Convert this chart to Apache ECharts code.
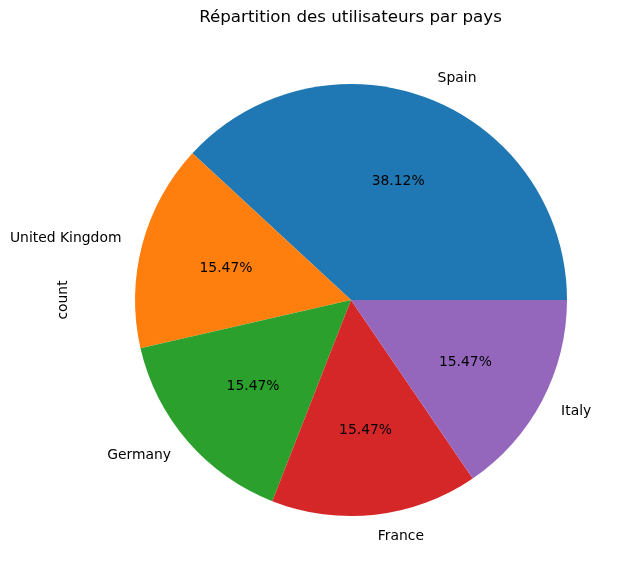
<!DOCTYPE html>
<html><head><meta charset="utf-8">
<script src="https://cdn.jsdelivr.net/npm/echarts@6/dist/echarts.min.js"></script>
<style>html,body{margin:0;padding:0;background:#fff}#c{width:630px;height:580px}</style>
</head><body><div id="c"></div>
<script>
const categories = ['Spain', 'United Kingdom', 'Germany', 'France', 'Italy'];
const counts = [69, 28, 28, 28, 28];
const colors = ['#1f77b4', '#ff7f0e', '#2ca02c', '#d62728', '#9467bd'];
const titleText = 'Répartition des utilisateurs par pays';
const yLabel = 'count';

const total = counts.reduce((a, b) => a + b, 0);
const data = categories.map((c, i) => ({ name: c, value: counts[i], itemStyle: { color: colors[i] } }));
const R = 216;
const cx = 351, cy = 300;
const font = 'DejaVu Sans';

const chart = echarts.init(document.getElementById('c'));
chart.setOption({
  animation: false,
  graphic: [
    { type: 'text', x: 350.5, y: 18, style: { text: titleText, fontFamily: font, fontSize: 16.7, fill: '#000', textAlign: 'center', textVerticalAlign: 'middle' } },
    { type: 'text', x: 63, y: cy, rotation: Math.PI / 2,
      style: { text: yLabel, fontFamily: font, fontSize: 13.9, fill: '#000', textAlign: 'center', textVerticalAlign: 'middle' } }],
  series: [
    { type: 'pie', center: [cx, cy], radius: [0, R], startAngle: 0, clockwise: false,
      avoidLabelOverlap: false, silent: true, data: data,
      label: { show: true, position: 'outside', distanceToLabelLine: 0, fontFamily: font, fontSize: 13.9, color: '#000',
        formatter: p => p.name },
      labelLine: { show: false, length: R * 0.1, length2: 0 } },
    { type: 'pie', center: [cx, cy + 1.5], radius: [0, R * 1.17], startAngle: 0, clockwise: false,
      avoidLabelOverlap: false, silent: true,
      data: data.map(d => ({ name: d.name, value: d.value, itemStyle: { color: 'transparent' } })),
      label: { show: true, position: 'inside', fontFamily: font, fontSize: 13.9, color: '#000',
        formatter: p => (p.value / total * 100).toFixed(2) + '%' },
      labelLine: { show: false } }
  ]
});
</script></body></html>
